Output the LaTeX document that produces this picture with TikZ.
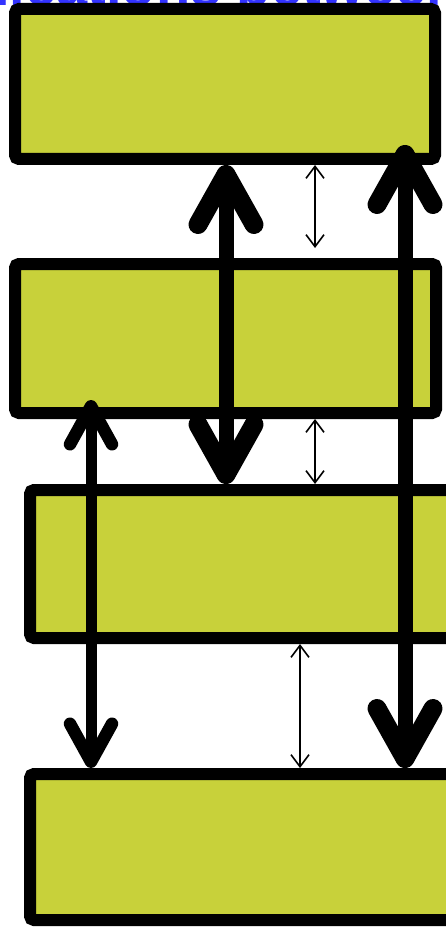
\documentclass[tikz,border=0pt]{standalone}
\usepackage{fontspec}
\setmainfont{Liberation Sans}
\usepackage{tikz}
\usetikzlibrary{arrows.meta,calc}
\definecolor{layergreen}{RGB}{200,209,58}
\definecolor{titleblue}{RGB}{51,51,255}

\begin{document}
\begin{tikzpicture}[x=1pt,y=-1pt,
	layer/.style={rectangle,draw,line width=12pt,fill=layergreen,rounded corners=4pt},
	title/.style={font=\bfseries\fontsize{56}{60}\selectfont,text=titleblue,inner sep=0pt},
	fat/.style={<->,>={Straight Barb[length=50pt,width=56pt,line width=19pt,round]},line width=15pt},
	medium/.style={<->,>={Straight Barb[length=38pt,width=42pt,line width=12.5pt,round]},line width=11pt},
	thin/.style={<->,>={Straight Barb[length=12pt,width=18pt]},line width=1.6pt}]

	\useasboundingbox (0,0) rectangle (446,928);

	\node[title,anchor=base west] (title) at (-233,6) {Communications between};

	\node[layer,minimum width=420pt,minimum height=150pt] (1) at (225,84) {};
	\node[layer,minimum width=421pt,minimum height=149pt] (2) at (225.5,338.5) {};
	\node[layer,minimum width=430pt,minimum height=148pt] (3) at (245,564) {};
	\node[layer,minimum width=430pt,minimum height=146pt] (4) at (245,847) {};

	\coordinate (c1) at (226,0);
	\coordinate (c2) at (405,0);
	\coordinate (c3) at (91,0);
	\coordinate (t1) at (315,0);
	\coordinate (t2) at (300,0);

	\path
	(1.south -| c1) edge[fat] (3.north -| c1)
	($(1.south -| c2)+(0,-20)$) edge[fat] (4.north -| c2)
	($(2.south -| c3)+(0,-19)$) edge[medium] (4.north -| c3)
	(1.south -| t1) edge[thin] ($(2.north -| t1)+(0,-10)$)
	(2.south -| t1) edge[thin] (3.north -| t1)
	(3.south -| t2) edge[thin] (4.north -| t2);
\end{tikzpicture}
\end{document}
